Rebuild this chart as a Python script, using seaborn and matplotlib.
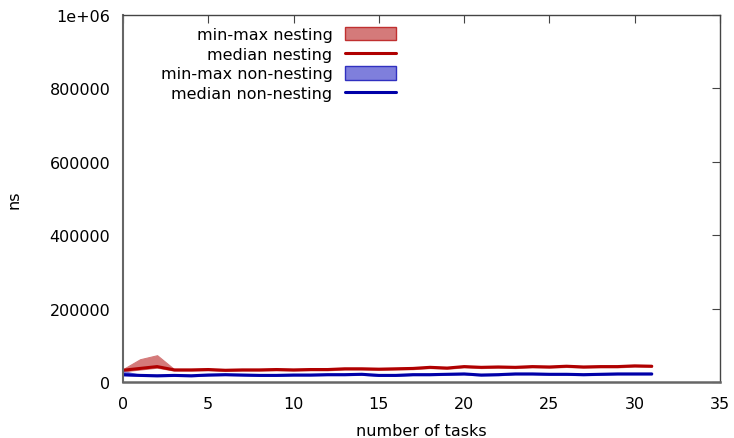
import matplotlib
matplotlib.use("Agg")
import matplotlib.pyplot as plt
import seaborn as sns
import numpy as np
import pandas as pd
from matplotlib.patches import Patch
from matplotlib.lines import Line2D

tasks = list(range(32))
nest_med = [32000, 37000, 42000, 33000, 33000, 34000, 32000, 33000, 33000, 34000,
            33000, 34000, 34000, 36000, 36000, 35000, 36000, 37000, 40000, 38000,
            42000, 40000, 41000, 40000, 42000, 41000, 43000, 41000, 42000, 42000,
            44000, 43000]
nest_min = [29000, 34000, 39000, 31000, 31000, 32000, 30000, 31000, 31000, 32000,
            31000, 32000, 32000, 34000, 34000, 33000, 34000, 35000, 38000, 36000,
            40000, 38000, 39000, 38000, 40000, 39000, 41000, 39000, 40000, 40000,
            42000, 41000]
nest_max = [35000, 62000, 73000, 35000, 35000, 36000, 34000, 35000, 35000, 36000,
            35000, 36000, 36000, 38000, 38000, 37000, 38000, 39000, 42000, 40000,
            44000, 42000, 43000, 42000, 44000, 43000, 45000, 43000, 44000, 44000,
            46000, 45000]
non_med = [20000, 18000, 17000, 18000, 17000, 19000, 20000, 19000, 18000, 18000,
           19000, 19000, 20000, 20000, 21000, 18000, 18000, 20000, 20000, 21000,
           22000, 19000, 20000, 22000, 22000, 21000, 21000, 20000, 21000, 22000,
           22000, 22000]
non_min = [18000, 16500, 15500, 16500, 15500, 17500, 18500, 17500, 16500, 16500,
           17500, 17500, 18500, 18500, 19500, 16500, 16500, 18500, 18500, 19500,
           20500, 17500, 18500, 20500, 20500, 19500, 19500, 18500, 19500, 20500,
           20500, 20500]
non_max = [30000, 19500, 18500, 19500, 18500, 20500, 21500, 20500, 19500, 19500,
           20500, 20500, 21500, 21500, 22500, 19500, 19500, 21500, 21500, 22500,
           23500, 20500, 21500, 23500, 23500, 22500, 22500, 21500, 22500, 23500,
           23500, 23500]

x_ticks = [0, 5, 10, 15, 20, 25, 30, 35]
y_ticks = [0, 200000, 400000, 600000, 800000, 1000000]
y_labels = ["0", "200000", "400000", "600000", "800000", "1e+06"]

df = pd.DataFrame({
    "tasks": tasks * 2,
    "ns": nest_med + non_med,
    "series": ["median nesting"] * 32 + ["median non-nesting"] * 32,
})

sns.set_style("white")
plt.rcParams["font.family"] = ["DejaVu Sans"]
plt.rcParams["text.color"] = "black"
plt.rcParams["axes.labelcolor"] = "black"

fig = plt.figure(figsize=(7.34, 4.39), dpi=100)
ax = fig.add_axes([123 / 734, 1 - 383 / 439, 597 / 734, 367 / 439])

nest_fill = "#d47a7a"
nest_edge = "#c03030"
nest_line = "#b00000"
non_fill = "#7f7fdc"
non_edge = "#3030c0"
non_line = "#0000a8"

ax.fill_between(tasks, nest_min, nest_max, facecolor=nest_fill, edgecolor=nest_fill, lw=0.8, zorder=1)
ax.fill_between(tasks, non_min, non_max, facecolor=non_fill, edgecolor=non_fill, lw=0.8, zorder=1)
sns.lineplot(data=df, x="tasks", y="ns", hue="series",
             palette={"median nesting": nest_line, "median non-nesting": non_line},
             linewidth=2.2, ax=ax, legend=False, zorder=2)

ax.set_xlim(0, 35)
ax.set_ylim(0, 1000000)
ax.set_xticks(x_ticks)
ax.set_yticks(y_ticks)
ax.set_yticklabels(y_labels)
ax.tick_params(direction="in", length=6, width=0.8, top=True, right=True,
               labelsize=11.5, colors="#444444", labelcolor="black")
ax.tick_params(axis="x", pad=10)
ax.tick_params(axis="y", pad=9)
for s in ax.spines.values():
    s.set_color("#444444")
    s.set_linewidth(1.0)
ax.spines["bottom"].set_color("#666666")
ax.spines["bottom"].set_linewidth(1.8)
ax.spines["left"].set_color("#666666")
ax.spines["left"].set_linewidth(1.5)
ax.set_xlabel("number of tasks", fontsize=11.5, labelpad=9, color="black")
ax.set_ylabel("ns", fontsize=11.5, labelpad=20, color="black")

handles = [
    Patch(facecolor=nest_fill, edgecolor=nest_edge, lw=1),
    Line2D([0], [0], color=nest_line, lw=2.2),
    Patch(facecolor=non_fill, edgecolor=non_edge, lw=1),
    Line2D([0], [0], color=non_line, lw=2.2),
]
labels = ["min-max nesting", "median nesting", "min-max non-nesting", "median non-nesting"]
leg = ax.legend(handles, labels, loc="upper right", bbox_to_anchor=(0.458, 0.967),
                frameon=False, markerfirst=False, fontsize=11.5, handlelength=3.2,
                handleheight=0.9, labelspacing=0.28, handletextpad=0.8, borderpad=0,
                borderaxespad=0)
for t in leg.get_texts():
    t.set_color("black")

fig.savefig("out.png", dpi=100)
